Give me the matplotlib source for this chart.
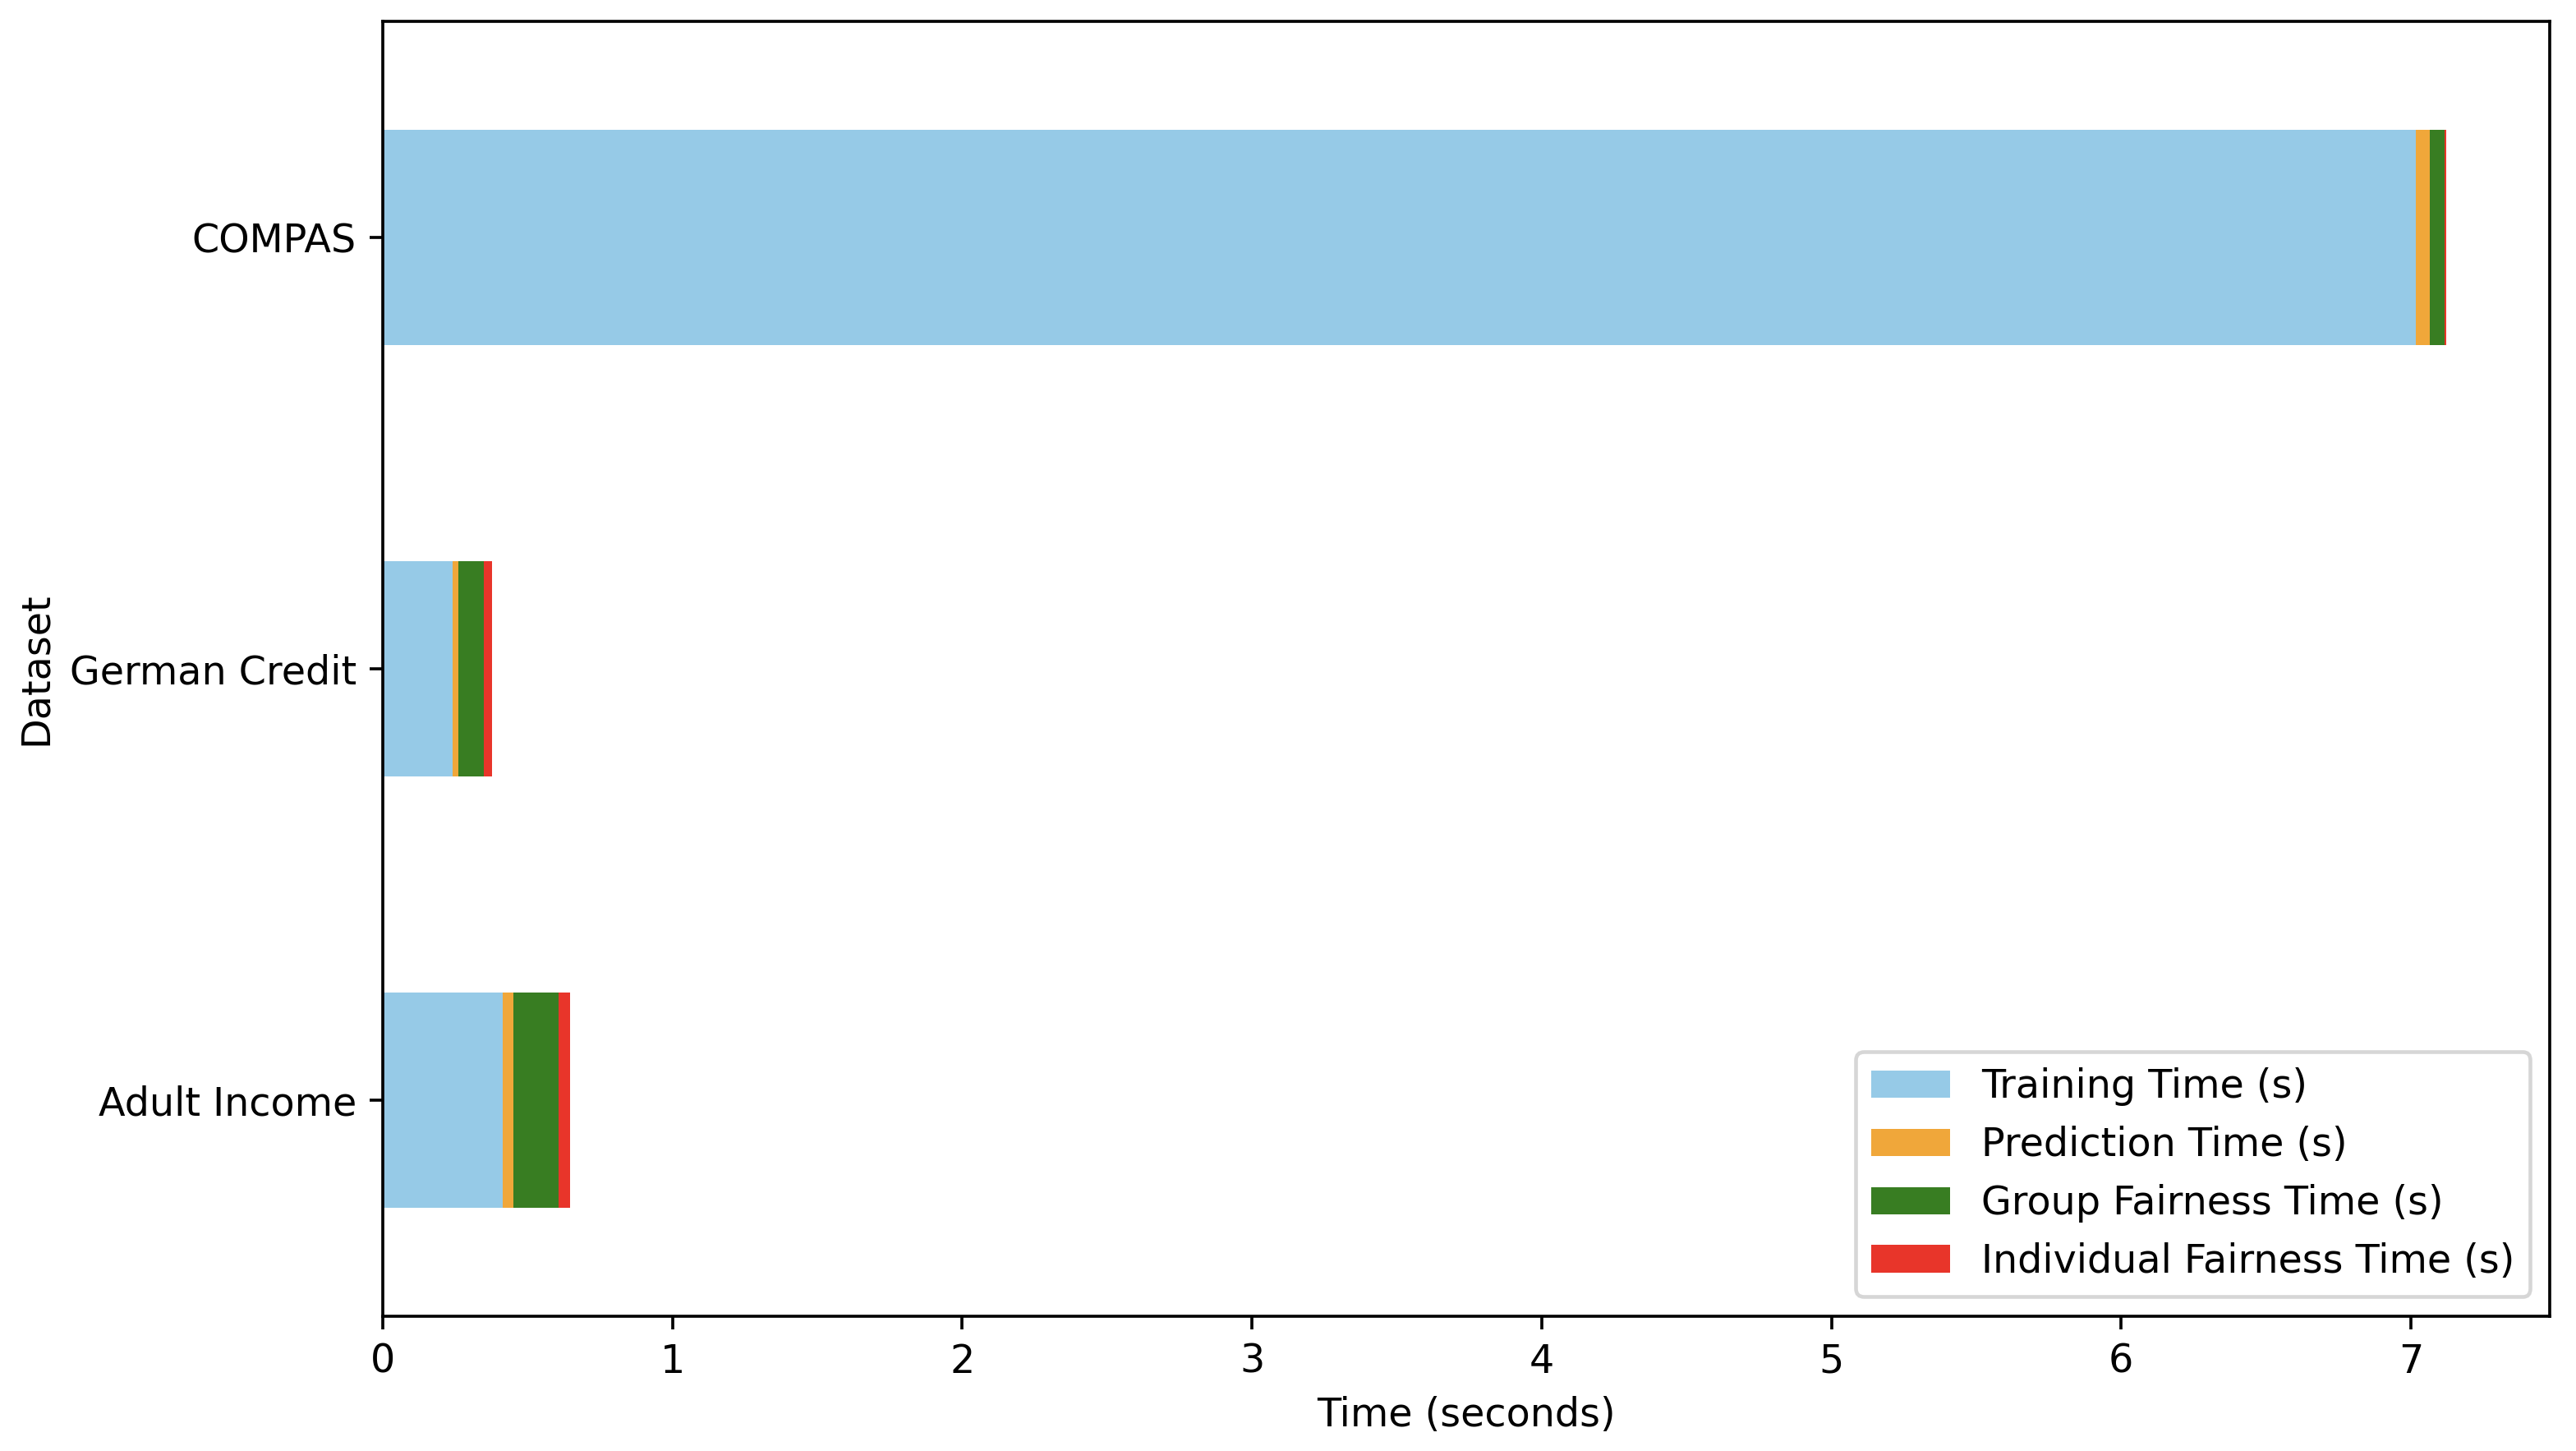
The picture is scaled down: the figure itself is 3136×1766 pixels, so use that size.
import matplotlib
matplotlib.use("Agg")
import matplotlib.pyplot as plt
import numpy as np

datasets = ["Adult Income", "German Credit", "COMPAS"]
training = [0.413, 0.242, 7.018]
prediction = [0.039, 0.018, 0.047]
group_fair = [0.155, 0.088, 0.050]
indiv_fair = [0.038, 0.028, 0.008]

labels = ["Training Time (s)", "Prediction Time (s)",
          "Group Fairness Time (s)", "Individual Fairness Time (s)"]
colors = ["#96CAE7", "#F0A73A", "#387D22", "#E8352A"]

plt.rcParams["font.size"] = 10.4

fig = plt.figure(figsize=(3136 / 330, 1766 / 330), dpi=330)
ax = fig.add_axes([0.1486, 0.093, 0.8412, 0.892])

y = np.arange(len(datasets))
left = np.zeros(len(datasets))
for vals, lab, col in zip([training, prediction, group_fair, indiv_fair], labels, colors):
    ax.barh(y, vals, height=0.5, left=left, color=col, label=lab)
    left += np.array(vals)

ax.set_yticks(y)
ax.set_yticklabels(datasets)
ax.set_ylim(-0.5, 2.5)
ax.set_xlabel("Time (seconds)")
ax.set_ylabel("Dataset")
ax.legend(loc="lower right")

fig.savefig("out.png", dpi=330)
